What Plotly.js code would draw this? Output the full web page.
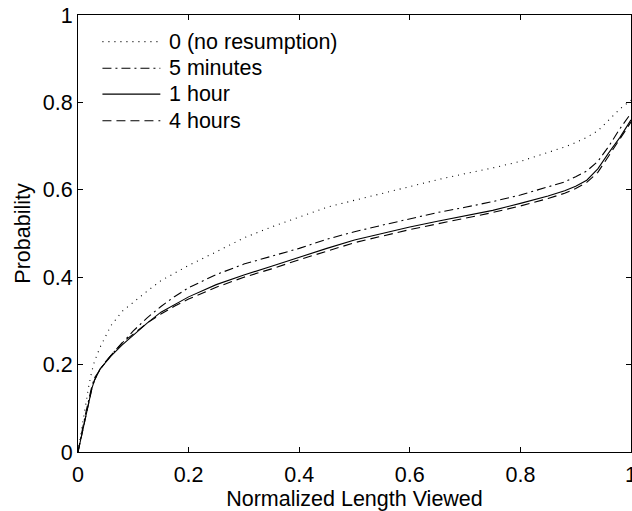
<!DOCTYPE html>
<html>
<head>
<meta charset="utf-8">
<script src="https://cdn.plot.ly/plotly-3.0.1.min.js"></script>
<style>html,body{margin:0;padding:0;background:#fff;} #chart{width:632px;height:511px;}</style>
</head>
<body>
<div id="chart"></div>
<script>
// Normalized length viewed (x)
const xs = [0, 0.005, 0.01, 0.015, 0.02, 0.025, 0.03, 0.04, 0.05, 0.06, 0.08, 0.1, 0.125, 0.15, 0.175, 0.2, 0.25, 0.3, 0.35, 0.4, 0.45, 0.5, 0.55, 0.6, 0.65, 0.7, 0.75, 0.8, 0.85, 0.88, 0.9, 0.92, 0.94, 0.96, 0.98, 1.0];
// Probability series
const noResumption = [0, 0.04, 0.08, 0.12, 0.155, 0.185, 0.208, 0.24, 0.266, 0.29, 0.322, 0.343, 0.368, 0.392, 0.41, 0.427, 0.458, 0.49, 0.515, 0.538, 0.56, 0.576, 0.592, 0.608, 0.623, 0.637, 0.65, 0.665, 0.685, 0.698, 0.708, 0.72, 0.735, 0.76, 0.785, 0.805];
const fiveMinutes = [0, 0.035, 0.065, 0.095, 0.125, 0.15, 0.17, 0.19, 0.207, 0.222, 0.25, 0.277, 0.307, 0.333, 0.356, 0.376, 0.406, 0.43, 0.448, 0.466, 0.487, 0.504, 0.519, 0.534, 0.548, 0.56, 0.573, 0.588, 0.606, 0.618, 0.63, 0.643, 0.665, 0.7, 0.74, 0.775];
const oneHour = [0, 0.03, 0.06, 0.09, 0.12, 0.145, 0.165, 0.19, 0.205, 0.22, 0.245, 0.267, 0.295, 0.32, 0.338, 0.355, 0.383, 0.405, 0.425, 0.446, 0.466, 0.485, 0.5, 0.515, 0.528, 0.54, 0.553, 0.569, 0.586, 0.598, 0.608, 0.622, 0.648, 0.685, 0.72, 0.76];
const fourHours = [0, 0.03, 0.06, 0.09, 0.12, 0.145, 0.165, 0.19, 0.205, 0.222, 0.25, 0.27, 0.295, 0.316, 0.334, 0.35, 0.377, 0.4, 0.419, 0.44, 0.46, 0.479, 0.494, 0.509, 0.522, 0.535, 0.548, 0.563, 0.58, 0.592, 0.603, 0.617, 0.64, 0.678, 0.715, 0.755];

const seriesNames = ['0 (no resumption)', '5 minutes', '1 hour', '4 hours'];
const seriesValues = [noResumption, fiveMinutes, oneHour, fourHours];
const dashes = ['1px,5px', '9px,4px,2px,4px', 'solid', '9px,5px'];

const FONT = 'Liberation Sans, Arial, Helvetica, sans-serif';
const FS = 21.5;

const traces = seriesValues.map((v, i) => ({
  type: 'scatter', mode: 'lines', x: xs, y: v, name: seriesNames[i],
  line: {color: '#000', width: 1.1, dash: dashes[i]}, showlegend: false, hoverinfo: 'skip'
}));

// manual legend (MATLAB style) in axis-fraction coordinates
const legX0 = 0.0442, legX1 = 0.1489, legTextX = 0.1615;
const legY = [0.939, 0.878, 0.819, 0.758];
const shapes = [], annotations = [];
seriesNames.forEach((n, i) => {
  shapes.push({type: 'line', xref: 'x', yref: 'y', x0: legX0, x1: legX1, y0: legY[i], y1: legY[i],
    line: {color: '#000', width: 1.1, dash: dashes[i]}});
  annotations.push({xref: 'x', yref: 'y', x: legTextX, y: legY[i], text: n, showarrow: false,
    xanchor: 'left', yanchor: 'middle', font: {family: FONT, size: FS, color: '#000'}});
});

const axisCommon = {
  range: [0, 1], dtick: 0.2, tick0: 0, showgrid: false, zeroline: false,
  showline: true, linecolor: '#000', linewidth: 1, mirror: 'ticks',
  ticks: 'inside', ticklen: 5, tickcolor: '#000', tickwidth: 1,
  tickfont: {family: FONT, size: FS, color: '#000'}
};

const layout = {
  width: 632, height: 511,
  margin: {l: 78, r: 1, t: 15, b: 59, pad: 0},
  paper_bgcolor: '#fff', plot_bgcolor: '#fff',
  font: {family: FONT, size: FS, color: '#000'},
  xaxis: Object.assign({}, axisCommon, {ticklabeloverflow: 'allow', ticklabelstandoff: 3,
    title: {text: 'Normalized Length Viewed', font: {family: FONT, size: FS, color: '#000'}, standoff: 0}}),
  yaxis: Object.assign({}, axisCommon, {title: {text: 'Probability', font: {family: FONT, size: FS, color: '#000'}, standoff: 6}}),
  shapes: shapes, annotations: annotations, showlegend: false
};

Plotly.newPlot('chart', traces, layout, {staticPlot: true, displayModeBar: false});
</script>
</body>
</html>
